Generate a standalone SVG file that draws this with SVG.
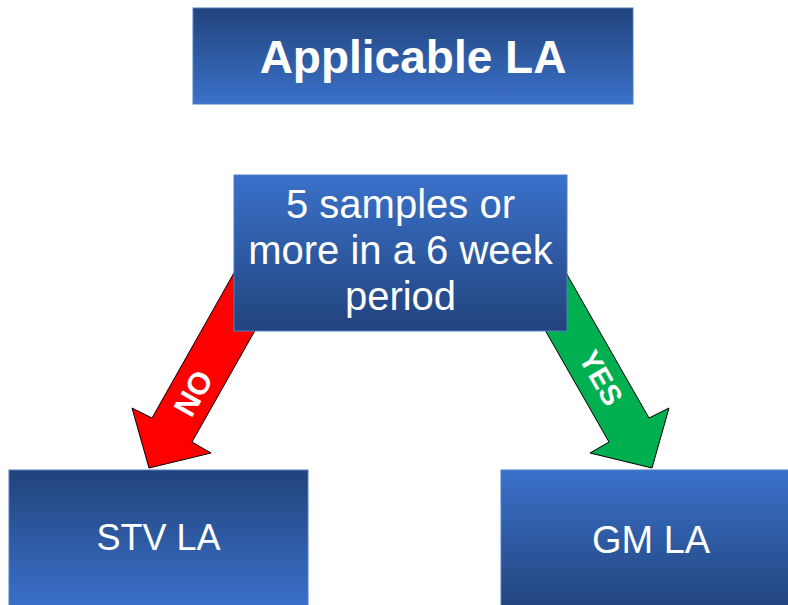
<svg xmlns="http://www.w3.org/2000/svg" width="788" height="605" viewBox="0 0 788 605">
<defs>
<linearGradient id="darkTop" x1="0" y1="0" x2="0" y2="1">
<stop offset="0" stop-color="#22437c"/>
<stop offset="1" stop-color="#3a71ca"/>
</linearGradient>
<linearGradient id="lightTop" x1="0" y1="0" x2="0" y2="1">
<stop offset="0" stop-color="#3a71ca"/>
<stop offset="1" stop-color="#22437c"/>
</linearGradient>
<style>
.box{stroke:#4f7fc4;stroke-width:1}
.t{font-family:"Liberation Sans",Arial,sans-serif;fill:#ffffff;text-anchor:middle}
.arrow{stroke:#000000;stroke-width:1;stroke-linejoin:miter}
</style>
</defs>
<rect width="788" height="605" fill="#ffffff"/>
<g id="connectors">
<polygon class="arrow" fill="#ff0000" points="240.6,261.2 280.6,285.2 192,442 211,453 149,468 132,408 152,418"/>
<polygon class="arrow" fill="#00b050" points="559.4,261.2 519.4,285.2 609,442 590,453 652,468 669,408 649,418"/>
<text class="t" x="193" y="393" dy="11" font-size="31" font-weight="bold" transform="rotate(-60.5 193 393)">NO</text>
<text class="t" x="601" y="378" dy="10" font-size="29" font-weight="bold" transform="rotate(60.5 601 378)">YES</text>
</g>
<g id="title">
<rect class="box" x="193" y="8" width="440" height="96" fill="url(#darkTop)"/>
<text class="t" x="413" y="73" font-size="46" font-weight="bold">Applicable LA</text>
</g>
<g id="question">
<rect class="box" x="234" y="175" width="333" height="156" fill="url(#lightTop)"/>
<text class="t" x="400.5" y="218" font-size="40">5 samples or</text>
<text class="t" x="400.5" y="264" font-size="40">more in a 6 week</text>
<text class="t" x="400.5" y="310" font-size="40">period</text>
</g>
<g id="stv">
<rect class="box" x="9" y="470" width="299" height="140" fill="url(#darkTop)"/>
<text class="t" x="158.5" y="550" font-size="36">STV LA</text>
</g>
<g id="gm">
<rect class="box" x="501" y="470" width="300" height="140" fill="url(#lightTop)"/>
<text class="t" x="651" y="553" font-size="38">GM LA</text>
</g>
</svg>
